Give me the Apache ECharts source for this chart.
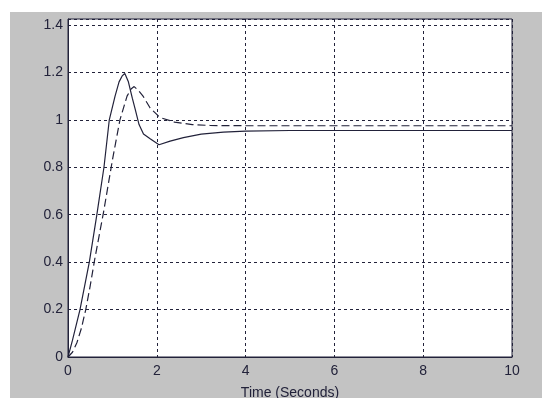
<!DOCTYPE html>
<html>
<head>
<meta charset="utf-8">
<script src="https://cdn.jsdelivr.net/npm/echarts@6/dist/echarts.min.js"></script>
<style>
body { margin: 0; background: #fff; }
#step-chart {
    position: absolute;
    left: 10px;
    top: 12px;
    width: 532px;
    height: 386px;
    background: #c3c3c3;
}
</style>
</head>
<body>
<div id="step-chart"></div>
<script>
// step response
const solidT = [0, 0.1, 0.27, 0.48, 0.65, 0.81, 0.93, 1.06, 1.15, 1.22, 1.28, 1.36, 1.45, 1.52, 1.6, 1.7, 1.85, 2.05, 2.3, 2.6, 3, 3.5, 4, 5, 6, 8, 10]
const solidY = [0, 0.07, 0.2, 0.4, 0.6, 0.8, 1.0, 1.1, 1.16, 1.185, 1.195, 1.16, 1.09, 1.04, 0.98, 0.94, 0.92, 0.895, 0.91, 0.925, 0.94, 0.948, 0.952, 0.955, 0.955, 0.955, 0.955]
const dashT = [0, 0.1, 0.2, 0.3, 0.4, 0.5, 0.6, 0.8, 1.0, 1.17, 1.33, 1.42, 1.49, 1.58, 1.69, 1.85, 2.07, 2.4, 2.8, 3.2, 4, 6, 8, 10]
const dashY = [0, 0.02, 0.06, 0.12, 0.2, 0.3, 0.41, 0.61, 0.83, 1.0, 1.1, 1.13, 1.14, 1.125, 1.1, 1.05, 1.01, 0.99, 0.98, 0.976, 0.975, 0.975, 0.975, 0.975]

const ink = '#22223a'
const toPairs = (xs, ys) => xs.map((x, i) => [x, ys[i]])

const myChart = echarts.init(document.getElementById('step-chart'))
myChart.setOption({
    animation: false,
    textStyle: { fontFamily: 'Liberation Sans, Arial, sans-serif' },
    grid: {
        left: 58,
        top: 7,
        width: 444,
        height: 338,
        outerBoundsMode: 'none',
        show: true,
        backgroundColor: '#fff',
        borderColor: ink,
        borderWidth: 1
    },
    xAxis: {
        type: 'value',
        min: 0,
        max: 10,
        interval: 2,
        name: 'Time (Seconds)',
        nameLocation: 'middle',
        nameGap: 29,
        nameTextStyle: { color: ink, fontSize: 14 },
        axisLine: { lineStyle: { color: ink } },
        axisTick: { show: false },
        axisLabel: { color: ink, fontSize: 14, margin: 7 },
        splitLine: { lineStyle: { color: ink, type: [3, 3] } }
    },
    yAxis: {
        type: 'value',
        min: 0,
        max: 1.425,
        interval: 0.2,
        axisLine: { show: true, lineStyle: { color: ink } },
        axisTick: { show: false },
        axisLabel: {
            color: ink,
            fontSize: 14,
            margin: 5,
            formatter: v => (Math.abs(v * 5 - Math.round(v * 5)) < 1e-6 ? String(+v.toFixed(1)) : '')
        },
        splitLine: { lineStyle: { color: ink, type: [3, 3] } }
    },
    series: [{
        type: 'line',
        symbol: 'none',
        data: toPairs(solidT, solidY),
        lineStyle: { color: ink, width: 1.2 }
    }, {
        type: 'line',
        symbol: 'none',
        data: toPairs(dashT, dashY),
        lineStyle: { color: ink, width: 1.2, type: [8, 4] }
    }]
})
</script>
</body>
</html>
